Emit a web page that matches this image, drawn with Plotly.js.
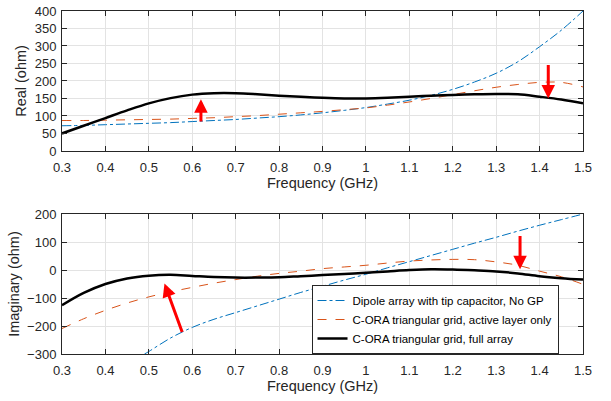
<!DOCTYPE html>
<html>
<head>
<meta charset="utf-8">
<script src="https://cdn.plot.ly/plotly-3.0.1.min.js"></script>
<style>html,body{margin:0;padding:0;background:#fff}#chart{width:611px;height:401px}</style>
</head>
<body>
<div id="chart"></div>
<script>
// Real part (ohm)
const freqReal = [0.3, 0.35, 0.4, 0.45, 0.5, 0.55, 0.6, 0.65, 0.7, 0.75, 0.8, 0.85, 0.9, 0.95, 1.0, 1.05, 1.1, 1.15, 1.2, 1.25, 1.3, 1.35, 1.4, 1.45, 1.5];
const dipoleReal = [72, 73, 75, 77, 79, 81, 84, 87, 90, 94, 98, 103, 109, 116, 124, 134, 145, 159, 176, 197, 222, 255, 298, 345, 400];
const activeReal = [87, 87, 88, 89, 90, 91, 93, 95, 98, 101, 105, 109, 113, 118, 123, 131, 140, 150, 161, 172, 182, 190, 196, 196, 183];
const fullReal = [50, 72, 94, 116, 136, 151, 161, 165, 165, 162, 158, 155, 152, 150, 150, 152, 155, 158, 160, 162, 163, 162, 155, 147, 136];

// Imaginary part (ohm)
const freqImag = [0.3, 0.35, 0.4, 0.45, 0.5, 0.55, 0.6, 0.65, 0.7, 0.75, 0.8, 0.85, 0.9, 0.95, 1.0, 1.05, 1.1, 1.15, 1.2, 1.25, 1.3, 1.35, 1.4, 1.45, 1.5];
const freqDipoleImag = [0.49, 0.5, 0.55, 0.6, 0.65, 0.7, 0.75, 0.8, 0.85, 0.9, 0.95, 1.0, 1.05, 1.1, 1.15, 1.2, 1.25, 1.3, 1.35, 1.4, 1.45, 1.5];
const dipoleImag = [-300, -291, -243, -205, -176, -152, -128, -104, -80, -58, -36, -15, 8, 30, 52, 74, 96, 117, 139, 160, 180, 200];
const activeImag = [-209, -174, -144, -118, -96, -78, -62, -47, -34, -22, -12, -4, 5, 11, 17, 25, 32, 36, 38, 37, 29, 17, -4, -24, -51];
const fullImag = [-126, -82, -50, -30, -20, -17, -21, -25, -27, -27, -26, -22, -18, -14, -10, -5, 0, 3, 2, -1, -5, -12, -22, -29, -34];

const xTicks = [0.3, 0.4, 0.5, 0.6, 0.7, 0.8, 0.9, 1.0, 1.1, 1.2, 1.3, 1.4, 1.5];
const xTickText = ['0.3', '0.4', '0.5', '0.6', '0.7', '0.8', '0.9', '1', '1.1', '1.2', '1.3', '1.4', '1.5'];
const seriesNames = ['Dipole array with tip capacitor, No GP', 'C-ORA triangular grid, active layer only', 'C-ORA triangular grid, full array'];

const BLUE = '#0072BD', ORANGE = '#D95319';
const FONT = 'Liberation Sans, Arial, Helvetica, sans-serif';

const traces = [
  {x: freqReal, y: dipoleReal, xaxis: 'x', yaxis: 'y', mode: 'lines', line: {color: BLUE, width: 1, dash: 'dashdot', shape: 'spline'}, name: seriesNames[0], showlegend: false},
  {x: freqReal, y: activeReal, xaxis: 'x', yaxis: 'y', mode: 'lines', line: {color: ORANGE, width: 1, dash: 'dash', shape: 'spline'}, name: seriesNames[1], showlegend: false},
  {x: freqReal, y: fullReal, xaxis: 'x', yaxis: 'y', mode: 'lines', line: {color: '#000', width: 2.5, shape: 'spline'}, name: seriesNames[2], showlegend: false},
  {x: freqDipoleImag, y: dipoleImag, xaxis: 'x2', yaxis: 'y2', mode: 'lines', line: {color: BLUE, width: 1, dash: 'dashdot', shape: 'spline'}, name: seriesNames[0]},
  {x: freqImag, y: activeImag, xaxis: 'x2', yaxis: 'y2', mode: 'lines', line: {color: ORANGE, width: 1, dash: 'dash', shape: 'spline'}, name: seriesNames[1]},
  {x: freqImag, y: fullImag, xaxis: 'x2', yaxis: 'y2', mode: 'lines', line: {color: '#000', width: 2.5, shape: 'spline'}, name: seriesNames[2]}
];

const axisCommon = {
  showline: true, linecolor: '#262626', linewidth: 1, mirror: 'ticks',
  ticks: 'inside', ticklen: 5, tickcolor: '#262626',
  showgrid: true, gridcolor: '#e3e3e3', gridwidth: 1, zeroline: false,
  tickfont: {family: FONT, size: 13, color: '#262626'}
};

function xAxis(anchor) {
  return Object.assign({}, axisCommon, {
    anchor: anchor, range: [0.3, 1.5], tickvals: xTicks, ticktext: xTickText, domain: [0, 1],
    ticklabelstandoff: 4,
    title: {text: 'Frequency (GHz)', font: {family: FONT, size: 14.5, color: '#262626'}, standoff: 4}
  });
}

const layout = {
  width: 611, height: 401,
  margin: {l: 62, r: 28, t: 11, b: 47},
  paper_bgcolor: '#fff', plot_bgcolor: '#fff',
  showlegend: true,
  legend: {
    x: 0.953, y: 0, xanchor: 'right', yanchor: 'bottom',
    bgcolor: '#fff', bordercolor: '#262626', borderwidth: 1,
    font: {family: FONT, size: 11.5, color: '#000'},
    tracegroupgap: 0, itemwidth: 30
  },
  xaxis: xAxis('y'),
  yaxis: Object.assign({}, axisCommon, {
    anchor: 'x', domain: [0.592, 1], range: [0, 400], dtick: 50,
    ticklabelstandoff: 2,
    title: {text: 'Real (ohm)', font: {family: FONT, size: 14.5, color: '#262626'}, standoff: 4}
  }),
  xaxis2: xAxis('y2'),
  yaxis2: Object.assign({}, axisCommon, {
    anchor: 'x2', domain: [0, 0.408], range: [-300, 200], dtick: 100,
    ticklabelstandoff: 2,
    title: {text: 'Imaginary (ohm)', font: {family: FONT, size: 14.5, color: '#262626'}, standoff: 4}
  }),
  annotations: [
    {xref: 'x', yref: 'y', axref: 'x', ayref: 'y', x: 0.62, y: 148, ax: 0.62, ay: 80, showarrow: true, arrowhead: 2, arrowsize: 0.9, arrowwidth: 3, arrowcolor: '#ff0000', text: ''},
    {xref: 'x', yref: 'y', axref: 'x', ayref: 'y', x: 1.42, y: 150, ax: 1.42, ay: 250, showarrow: true, arrowhead: 2, arrowsize: 0.9, arrowwidth: 3, arrowcolor: '#ff0000', text: ''},
    {xref: 'x2', yref: 'y2', axref: 'x2', ayref: 'y2', x: 0.536, y: -48, ax: 0.578, ay: -227, showarrow: true, arrowhead: 2, arrowsize: 0.9, arrowwidth: 3, arrowcolor: '#ff0000', text: ''},
    {xref: 'x2', yref: 'y2', axref: 'x2', ayref: 'y2', x: 1.355, y: 3, ax: 1.355, ay: 127, showarrow: true, arrowhead: 2, arrowsize: 0.9, arrowwidth: 3, arrowcolor: '#ff0000', text: ''}
  ]
};

Plotly.newPlot('chart', traces, layout, {staticPlot: true, displayModeBar: false});
</script>
</body>
</html>
